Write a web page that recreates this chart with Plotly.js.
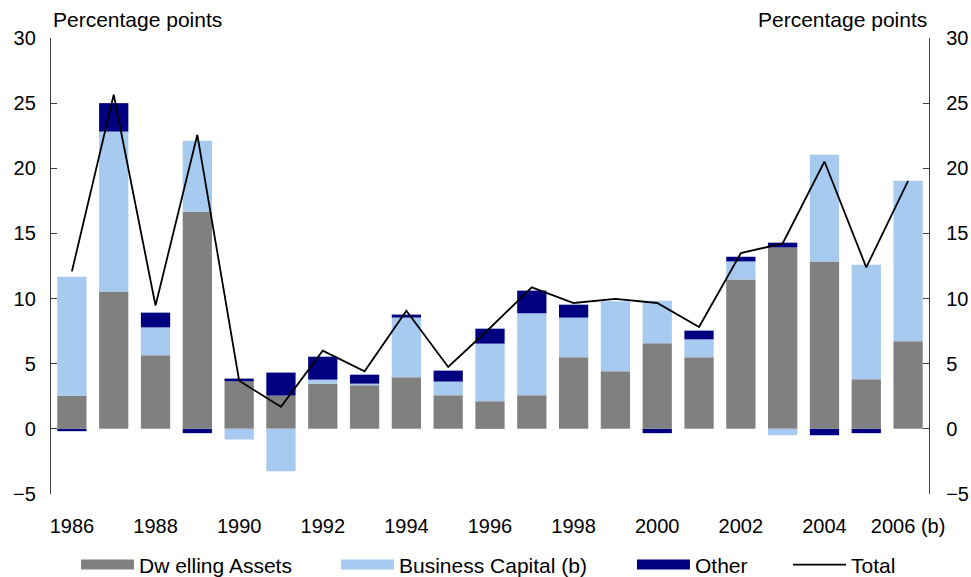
<!DOCTYPE html>
<html>
<head>
<meta charset="utf-8">
<script src="https://cdn.plot.ly/plotly-3.0.1.min.js"></script>
<style>html,body{margin:0;padding:0;background:#fff;}#chart{width:971px;height:577px;}</style>
</head>
<body>
<div id="chart"></div>
<script>
var years = [1986,1987,1988,1989,1990,1991,1992,1993,1994,1995,1996,1997,1998,1999,2000,2001,2002,2003,2004,2005,2006];
var tickYears = [1986,1988,1990,1992,1994,1996,1998,2000,2002,2004,2006];
var tickLabels = ["1986","1988","1990","1992","1994","1996","1998","2000","2002","2004","2006 (b)"];
var dwelling = [2.55,10.55,5.65,16.66,3.65,2.55,3.47,3.35,3.96,2.58,2.12,2.58,5.49,4.42,6.57,5.49,11.47,13.93,12.85,3.80,6.72];
var business = [9.13,12.27,2.14,5.45,-0.82,-3.25,0.31,0.12,4.58,1.05,4.42,6.29,3.05,5.37,3.27,1.38,1.38,-0.49,8.18,8.80,12.32];
var other    = [-0.18,2.18,1.13,-0.33,0.21,1.77,1.76,0.69,0.23,0.84,1.15,1.74,0.99,0,-0.33,0.67,0.36,0.36,-0.49,-0.33,0];
var total    = [12.09,25.64,9.46,22.57,3.70,1.69,6.00,4.42,9.07,4.75,7.74,10.86,9.66,9.97,9.66,7.82,13.49,14.23,20.52,12.39,19.04];
var boundaries = years.slice(0, -1).map(function(y){ return y + 0.5; });

var seriesNames = ["Dw elling Assets", "Business Capital (b)", "Other"];
var seriesColors = ["#808080", "#a6caf0", "#000080"];
var seriesValues = [dwelling, business, other];
var legendIds = ['legend', 'legend2', 'legend3', 'legend4'];

var traces = [];
seriesValues.forEach(function(vals, i){
  traces.push({
    type: 'bar', x: years, y: vals, name: seriesNames[i], width: 0.7,
    marker: {color: seriesColors[i], line: {width: 0}},
    showlegend: false, hoverinfo: 'x+y+name'
  });
});
// legend swatches (wide rectangles like the original)
seriesValues.forEach(function(vals, i){
  traces.push({
    type: 'scatter', mode: 'lines', x: [null], y: [null], name: seriesNames[i],
    line: {color: seriesColors[i], width: 12}, showlegend: true, legend: legendIds[i], hoverinfo: 'skip'
  });
});
traces.push({
  type: 'scatter', mode: 'lines', x: years, y: total, name: 'Total',
  line: {color: '#000000', width: 1.8}, showlegend: true, legend: 'legend4'
});
traces.push({type: 'scatter', mode: 'none', x: [null], y: [null], yaxis: 'y2', showlegend: false, hoverinfo: 'skip'});

function legendAt(xp) {
  return {orientation: 'h', x: xp, xanchor: 'left', xref: 'paper', yref: 'container', y: 0.021, yanchor: 'middle',
          font: {size: 21}, itemwidth: 53, bgcolor: 'rgba(0,0,0,0)', borderwidth: 0};
}

var zeroPos = 5 / 35;
var layout = {
  width: 971, height: 577,
  margin: {l: 51, r: 42, t: 38, b: 83},
  paper_bgcolor: '#ffffff', plot_bgcolor: '#ffffff',
  font: {family: 'Arial, "Liberation Sans", sans-serif', size: 20, color: '#000000'},
  barmode: 'relative',
  showlegend: true,
  legend: legendAt(0.0285),
  legend2: legendAt(0.3246),
  legend3: legendAt(0.6617),
  legend4: legendAt(0.8394),
  xaxis: {type: 'linear', range: [1985.5, 2006.5], tickvals: tickYears, ticktext: tickLabels,
          showline: false, showgrid: false, zeroline: false,
          ticks: 'outside', ticklen: 14, tickcolor: 'rgba(0,0,0,0)', tickfont: {size: 20}},
  xaxis2: {type: 'linear', range: [1985.5, 2006.5], overlaying: 'x', anchor: 'free', position: zeroPos,
           tickvals: boundaries, showticklabels: false, ticks: 'inside', ticklen: 6, tickcolor: '#555555',
           showline: true, linecolor: '#000000', linewidth: 1.5, showgrid: false, zeroline: false},
  xaxis3: {type: 'linear', range: [1985.5, 2006.5], overlaying: 'x', anchor: 'free', position: zeroPos,
           tickvals: boundaries, showticklabels: false, ticks: 'outside', ticklen: 6, tickcolor: '#555555',
           showline: false, showgrid: false, zeroline: false},
  yaxis: {range: [-5, 30], dtick: 5, tick0: 0, ticks: 'inside', ticklen: 6, tickcolor: '#404040',
          showline: true, linecolor: '#404040', linewidth: 1.2, showgrid: false, zeroline: false,
          tickfont: {size: 20}, ticklabelstandoff: 10},
  yaxis2: {range: [-5, 30], dtick: 5, tick0: 0, overlaying: 'y', side: 'right', anchor: 'x',
           ticks: 'inside', ticklen: 6, tickcolor: '#404040',
           showline: true, linecolor: '#404040', linewidth: 1.2, showgrid: false, zeroline: false,
           tickfont: {size: 20}, ticklabelstandoff: 12},
  annotations: [
    {text: 'Percentage points', xref: 'paper', yref: 'paper', x: 0, y: 1, xanchor: 'left', yanchor: 'bottom',
     yshift: 5, showarrow: false, font: {size: 21}},
    {text: 'Percentage points', xref: 'paper', yref: 'paper', x: 1, y: 1, xanchor: 'right', yanchor: 'bottom',
     yshift: 5, showarrow: false, font: {size: 21}}
  ]
};

Plotly.newPlot('chart', traces, layout, {displayModeBar: false, staticPlot: true});
</script>
</body>
</html>
